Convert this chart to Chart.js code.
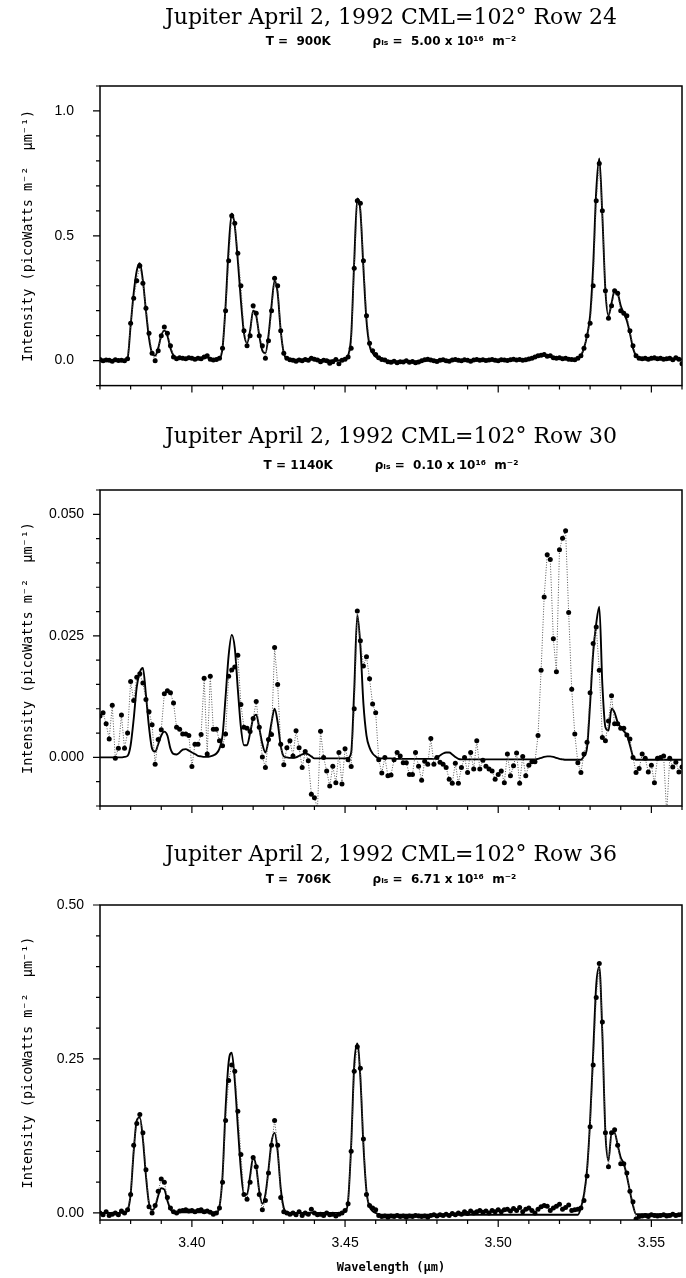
<!DOCTYPE html>
<html>
<head>
<meta charset="utf-8">
<script src="https://cdn.jsdelivr.net/npm/chart.js@4.4.1/dist/chart.umd.min.js"></script>
<style>
html,body{margin:0;padding:0;background:#ffffff;}
#wrap{position:relative;width:686px;height:1278px;background:#fff;}
canvas{position:absolute;left:0;}
</style>
</head>
<body>
<div id="wrap">
<canvas id="c1" width="686" height="420" style="top:0px"></canvas>
<canvas id="c2" width="686" height="420" style="top:420px"></canvas>
<canvas id="c3" width="686" height="438" style="top:840px"></canvas>
</div>
<script>
// ---------- DATA ----------
const wavelengths = [
3.370,3.371,3.372,3.373,3.374,3.375,3.376,3.377,3.378,3.379,
3.380,3.381,3.382,3.383,3.384,3.385,3.386,3.387,3.388,3.389,
3.390,3.391,3.392,3.393,3.394,3.395,3.396,3.397,3.398,3.399,
3.400,3.401,3.402,3.403,3.404,3.405,3.406,3.407,3.408,3.409,
3.410,3.411,3.412,3.413,3.414,3.415,3.416,3.417,3.418,3.419,
3.420,3.421,3.422,3.423,3.424,3.425,3.426,3.427,3.428,3.429,
3.430,3.431,3.432,3.433,3.434,3.435,3.436,3.437,3.438,3.439,
3.440,3.441,3.442,3.443,3.444,3.445,3.446,3.447,3.448,3.449,
3.450,3.451,3.452,3.453,3.454,3.455,3.456,3.457,3.458,3.459,
3.460,3.461,3.462,3.463,3.464,3.465,3.466,3.467,3.468,3.469,
3.470,3.471,3.472,3.473,3.474,3.475,3.476,3.477,3.478,3.479,
3.480,3.481,3.482,3.483,3.484,3.485,3.486,3.487,3.488,3.489,
3.490,3.491,3.492,3.493,3.494,3.495,3.496,3.497,3.498,3.499,
3.500,3.501,3.502,3.503,3.504,3.505,3.506,3.507,3.508,3.509,
3.510,3.511,3.512,3.513,3.514,3.515,3.516,3.517,3.518,3.519,
3.520,3.521,3.522,3.523,3.524,3.525,3.526,3.527,3.528,3.529,
3.530,3.531,3.532,3.533,3.534,3.535,3.536,3.537,3.538,3.539,
3.540,3.541,3.542,3.543,3.544,3.545,3.546,3.547,3.548,3.549,
3.550,3.551,3.552,3.553,3.554,3.555,3.556,3.557,3.558,3.559,
3.560];

// Row 24 (top panel)
const row24Observed = [
0.005,0.000,0.003,0.002,-0.002,0.004,0.001,0.002,0.000,0.008,
0.150,0.250,0.320,0.380,0.310,0.210,0.110,0.030,0.000,0.040,
0.100,0.135,0.110,0.060,0.015,0.008,0.012,0.010,0.008,0.012,
0.010,0.006,0.010,0.008,0.015,0.020,0.006,0.003,0.005,0.010,
0.050,0.200,0.400,0.580,0.550,0.430,0.300,0.120,0.060,0.100,
0.220,0.190,0.100,0.060,0.010,0.080,0.200,0.330,0.300,0.120,
0.030,0.010,0.004,0.002,-0.002,0.003,0.000,0.005,0.002,0.010,
0.006,0.003,-0.004,0.002,0.000,-0.010,-0.004,0.005,-0.012,0.002,
0.006,0.015,0.050,0.370,0.640,0.630,0.400,0.180,0.070,0.040,
0.025,0.012,0.005,0.003,-0.004,-0.006,-0.002,-0.008,-0.004,-0.005,
0.000,-0.006,-0.003,-0.008,-0.005,0.000,0.004,0.006,0.003,0.000,
-0.003,0.002,0.004,0.000,-0.002,0.003,0.005,0.002,0.000,0.004,
0.002,-0.002,0.003,0.005,0.002,0.004,0.001,0.003,0.005,0.002,
0.000,0.004,0.003,0.001,0.004,0.006,0.003,0.005,0.002,0.004,
0.007,0.010,0.015,0.020,0.022,0.025,0.018,0.020,0.012,0.010,
0.012,0.008,0.010,0.006,0.005,0.004,0.010,0.020,0.050,0.100,
0.150,0.300,0.640,0.790,0.600,0.280,0.170,0.220,0.280,0.270,
0.200,0.190,0.180,0.120,0.060,0.020,0.010,0.008,0.010,0.006,
0.010,0.012,0.008,0.010,0.006,0.008,0.010,0.004,0.012,0.006,
-0.012];
const row24Model = [
0.002,0.002,0.002,0.002,0.002,0.002,0.002,0.002,0.003,0.010,
0.140,0.270,0.360,0.390,0.320,0.200,0.090,0.030,0.020,0.050,
0.100,0.120,0.100,0.050,0.020,0.008,0.006,0.006,0.006,0.006,
0.006,0.006,0.007,0.008,0.010,0.012,0.008,0.005,0.005,0.008,
0.050,0.220,0.450,0.590,0.540,0.400,0.240,0.110,0.070,0.120,
0.200,0.180,0.100,0.040,0.030,0.100,0.220,0.320,0.270,0.120,
0.030,0.008,0.004,0.004,0.004,0.004,0.004,0.004,0.004,0.005,
0.005,0.004,0.003,0.002,0.002,0.001,0.001,0.001,0.001,0.002,
0.004,0.020,0.100,0.400,0.650,0.600,0.370,0.160,0.060,0.030,
0.015,0.008,0.003,0.000,-0.002,-0.003,-0.003,-0.003,-0.003,-0.003,
-0.003,-0.003,-0.003,-0.003,-0.002,-0.002,-0.001,0.000,0.001,0.001,
0.001,0.001,0.001,0.001,0.001,0.001,0.002,0.002,0.002,0.002,
0.002,0.002,0.002,0.002,0.002,0.002,0.002,0.002,0.002,0.002,
0.002,0.002,0.002,0.003,0.003,0.003,0.004,0.004,0.005,0.006,
0.008,0.010,0.014,0.017,0.019,0.020,0.019,0.017,0.014,0.011,
0.009,0.008,0.007,0.006,0.005,0.005,0.008,0.020,0.050,0.100,
0.180,0.380,0.680,0.810,0.580,0.280,0.180,0.230,0.280,0.270,
0.220,0.190,0.160,0.110,0.050,0.020,0.010,0.006,0.005,0.005,
0.005,0.005,0.005,0.005,0.005,0.005,0.005,0.005,0.005,0.005,
0.005];

// Row 30 (middle panel)
const row30Observed = [
0.0085,0.0092,0.0069,0.0038,0.0107,-0.0002,0.0019,0.0087,0.0019,0.0050,
0.0156,0.0117,0.0165,0.0172,0.0153,0.0119,0.0094,0.0067,-0.0014,0.0037,
0.0057,0.0131,0.0137,0.0133,0.0112,0.0062,0.0058,0.0048,0.0048,0.0045,
-0.0019,0.0027,0.0027,0.0047,0.0163,0.0007,0.0167,0.0058,0.0058,0.0034,
0.0024,0.0048,0.0167,0.0180,0.0186,0.0210,0.0109,0.0062,0.0060,0.0053,
0.0080,0.0115,0.0062,0.0001,-0.0021,0.0037,0.0047,0.0226,0.0150,0.0027,
-0.0015,0.0020,0.0034,0.0003,0.0055,0.0020,-0.0021,0.0012,-0.0007,-0.0076,
-0.0083,-0.0105,0.0054,0.0000,-0.0028,-0.0059,-0.0018,-0.0052,0.0010,-0.0055,
0.0018,-0.0005,-0.0019,0.0100,0.0301,0.0240,0.0188,0.0207,0.0162,0.0110,
0.0092,-0.0005,-0.0032,0.0000,-0.0038,-0.0036,-0.0005,0.0010,0.0003,-0.0011,
-0.0011,-0.0035,-0.0035,0.0010,-0.0018,-0.0047,-0.0008,-0.0014,0.0039,-0.0014,
0.0000,-0.0010,-0.0014,-0.0021,-0.0045,-0.0053,-0.0012,-0.0053,-0.0021,0.0000,
-0.0031,0.0010,-0.0024,0.0034,-0.0024,-0.0006,-0.0018,-0.0024,-0.0028,-0.0045,
-0.0035,-0.0028,-0.0052,0.0007,-0.0038,-0.0017,0.0009,-0.0053,0.0002,-0.0038,
-0.0016,-0.0009,-0.0009,0.0045,0.0179,0.0330,0.0417,0.0407,0.0244,0.0176,
0.0427,0.0451,0.0466,0.0298,0.0140,0.0048,-0.0011,-0.0031,0.0007,0.0031,
0.0133,0.0234,0.0268,0.0179,0.0041,0.0034,0.0075,0.0127,0.0069,0.0069,
0.0060,0.0060,0.0046,0.0038,0.0000,-0.0031,-0.0023,0.0007,-0.0002,-0.0030,
-0.0016,-0.0052,-0.0002,0.0000,0.0003,-0.0115,-0.0002,-0.0020,-0.0010,-0.0030,
-0.0020];
const row30Model = [
0.0000,0.0000,0.0000,0.0000,0.0000,0.0000,0.0000,0.0000,0.0001,0.0003,
0.0025,0.0079,0.0145,0.0175,0.0184,0.0128,0.0062,0.0018,0.0012,0.0027,
0.0045,0.0053,0.0045,0.0018,0.0007,0.0006,0.0010,0.0016,0.0017,0.0014,
0.0010,0.0007,0.0003,0.0002,0.0001,0.0001,0.0002,0.0004,0.0008,0.0018,
0.0045,0.0125,0.0210,0.0252,0.0225,0.0140,0.0062,0.0025,0.0025,0.0050,
0.0080,0.0088,0.0060,0.0028,0.0010,0.0035,0.0072,0.0100,0.0072,0.0024,
0.0002,0.0000,-0.0001,-0.0001,0.0000,0.0003,0.0006,0.0008,0.0006,0.0002,
-0.0002,-0.0002,-0.0002,-0.0002,-0.0002,-0.0002,-0.0002,-0.0002,-0.0002,-0.0002,
-0.0002,-0.0001,0.0010,0.0140,0.0293,0.0230,0.0110,0.0045,0.0020,0.0008,
0.0002,-0.0002,-0.0002,-0.0002,-0.0002,-0.0002,-0.0003,-0.0003,-0.0003,-0.0003,
-0.0003,-0.0003,-0.0003,-0.0003,-0.0003,-0.0003,-0.0003,-0.0003,-0.0003,-0.0003,
0.0000,0.0004,0.0008,0.0010,0.0010,0.0006,0.0001,-0.0003,-0.0004,-0.0004,
-0.0004,-0.0004,-0.0004,-0.0004,-0.0004,-0.0004,-0.0004,-0.0004,-0.0004,-0.0004,
-0.0004,-0.0004,-0.0004,-0.0004,-0.0004,-0.0004,-0.0004,-0.0004,-0.0004,-0.0004,
-0.0004,-0.0004,-0.0004,-0.0003,-0.0001,0.0001,0.0002,0.0002,0.0001,-0.0001,
-0.0003,-0.0004,-0.0005,-0.0005,-0.0005,-0.0005,-0.0005,-0.0005,0.0003,0.0020,
0.0110,0.0215,0.0275,0.0310,0.0150,0.0062,0.0055,0.0100,0.0092,0.0072,
0.0062,0.0054,0.0046,0.0025,0.0002,-0.0005,-0.0005,-0.0005,-0.0005,-0.0005,
-0.0005,-0.0005,-0.0005,-0.0005,-0.0005,-0.0005,-0.0005,-0.0005,-0.0005,-0.0005,
-0.0005];

// Row 36 (bottom panel)
const row36Observed = [
0.000,-0.003,0.002,-0.004,-0.002,0.000,-0.003,0.003,0.000,0.005,
0.030,0.110,0.145,0.160,0.130,0.070,0.010,0.000,0.012,0.035,
0.055,0.050,0.025,0.008,0.002,0.000,0.003,0.004,0.005,0.003,
0.004,0.002,0.004,0.005,0.002,0.003,0.001,-0.002,0.000,0.008,
0.050,0.150,0.215,0.240,0.230,0.165,0.095,0.030,0.022,0.050,
0.090,0.075,0.030,0.005,0.020,0.065,0.110,0.150,0.110,0.025,
0.002,0.000,-0.002,0.000,-0.003,0.002,-0.004,0.000,-0.002,0.006,
0.000,-0.003,-0.002,-0.004,0.000,-0.003,-0.002,-0.005,-0.002,0.000,
0.004,0.015,0.100,0.230,0.270,0.235,0.120,0.030,0.012,0.008,
0.005,-0.004,-0.006,-0.005,-0.007,-0.005,-0.006,-0.004,-0.006,-0.005,
-0.007,-0.005,-0.006,-0.004,-0.005,-0.006,-0.005,-0.007,-0.004,-0.003,
-0.005,-0.003,-0.004,-0.002,-0.004,-0.001,-0.003,0.000,-0.002,0.002,
-0.001,0.003,0.000,0.002,0.004,0.001,0.003,0.000,0.004,0.002,
0.005,0.002,0.005,0.006,0.003,0.007,0.004,0.009,0.002,0.006,
0.008,0.004,0.000,0.006,0.010,0.012,0.011,0.004,0.008,0.011,
0.014,0.006,0.009,0.013,0.004,0.005,0.006,0.008,0.020,0.060,
0.140,0.240,0.350,0.405,0.310,0.130,0.075,0.130,0.135,0.110,
0.080,0.080,0.065,0.035,0.018,-0.010,-0.006,-0.005,-0.004,-0.006,
-0.003,-0.004,-0.005,-0.004,-0.003,-0.005,-0.004,-0.002,-0.004,-0.003,
-0.002];
const row36Model = [
0.000,0.000,0.000,0.000,0.000,0.000,0.000,0.000,0.000,0.004,
0.030,0.100,0.150,0.155,0.120,0.060,0.015,0.005,0.010,0.028,
0.040,0.038,0.020,0.006,0.001,0.001,0.001,0.001,0.001,0.001,
0.001,0.001,0.001,0.001,0.001,0.001,0.001,0.001,0.001,0.010,
0.060,0.170,0.245,0.260,0.215,0.140,0.070,0.030,0.030,0.060,
0.090,0.075,0.035,0.015,0.030,0.070,0.115,0.130,0.100,0.040,
0.008,0.001,0.000,0.000,0.000,0.000,0.000,0.000,0.000,0.000,
0.000,0.000,0.000,0.000,0.000,0.000,0.000,0.000,0.000,0.000,
0.002,0.020,0.110,0.240,0.275,0.220,0.110,0.035,0.010,0.003,
0.000,-0.002,-0.003,-0.003,-0.003,-0.003,-0.003,-0.003,-0.003,-0.003,
-0.003,-0.003,-0.003,-0.003,-0.003,-0.003,-0.003,-0.003,-0.003,-0.003,
-0.003,-0.003,-0.003,-0.003,-0.003,-0.003,-0.003,-0.003,-0.003,-0.003,
-0.003,-0.003,-0.003,-0.003,-0.003,-0.003,-0.003,-0.003,-0.003,-0.003,
-0.003,-0.003,-0.003,-0.003,-0.003,-0.003,-0.003,-0.003,-0.003,-0.003,
-0.003,-0.003,-0.003,-0.003,-0.003,-0.003,-0.003,-0.003,-0.003,-0.003,
-0.003,-0.003,-0.003,-0.003,-0.003,-0.003,-0.003,0.008,0.030,0.070,
0.150,0.260,0.370,0.400,0.290,0.130,0.085,0.130,0.130,0.110,
0.090,0.080,0.060,0.035,0.012,-0.002,-0.002,-0.002,-0.002,-0.002,
-0.002,-0.002,-0.002,-0.002,-0.002,-0.002,-0.002,-0.002,-0.002,-0.002,
-0.002];

// ---------- TEXT / TICKS ----------
const panelTitles = [
  'Jupiter April 2, 1992 CML=102° Row 24',
  'Jupiter April 2, 1992 CML=102° Row 30',
  'Jupiter April 2, 1992 CML=102° Row 36'
];
const panelSubtitles = [
  'T =  900K          ρₗₛ =  5.00 x 10¹⁶  m⁻²',
  'T = 1140K          ρₗₛ =  0.10 x 10¹⁶  m⁻²',
  'T =  706K          ρₗₛ =  6.71 x 10¹⁶  m⁻²'
];
const yAxisTitle = 'Intensity (picoWatts m⁻²  μm⁻¹)';
const xAxisTitle = 'Wavelength (μm)';
const xTickValues = [3.40, 3.45, 3.50, 3.55];
const xTickLabels = ['3.40', '3.45', '3.50', '3.55'];
const row24YTickValues = [0, 0.5, 1.0];
const row24YTickLabels = ['0.0', '0.5', '1.0'];
const row30YTickValues = [0, 0.025, 0.05];
const row30YTickLabels = ['0.000', '0.025', '0.050'];
const row36YTickValues = [0, 0.25, 0.5];
const row36YTickLabels = ['0.00', '0.25', '0.50'];

// ---------- PLUGIN: frame + major/minor tick marks ----------
const frameTicks = {
  id: 'frameTicks',
  afterDraw(chart, args, opts) {
    const {ctx, chartArea: a, scales: {x, y}} = chart;
    const steps = (min, max, step) => {
      const out = [];
      for (let k = Math.ceil(min / step - 1e-6); k * step <= max + 1e-9; k++) out.push(k * step);
      return out;
    };
    const isMajor = (v, m) => Math.abs(v / m - Math.round(v / m)) < 1e-6;
    ctx.save();
    ctx.strokeStyle = '#000';
    ctx.lineWidth = 1.5;
    ctx.strokeRect(a.left, a.top, a.right - a.left, a.bottom - a.top);
    ctx.lineWidth = 1.2;
    ctx.beginPath();
    steps(x.min, x.max, opts.xMinor).forEach(v => {
      const px = x.getPixelForValue(v);
      ctx.moveTo(px, a.bottom);
      ctx.lineTo(px, a.bottom + (isMajor(v, opts.xMajor) ? 7 : 4));
    });
    steps(y.min, y.max, opts.yMinor).forEach(v => {
      const py = y.getPixelForValue(v);
      ctx.moveTo(a.left, py);
      ctx.lineTo(a.left - (isMajor(v, opts.yMajor) ? 7 : 4), py);
    });
    ctx.stroke();
    ctx.restore();
  }
};

function makePanel(p) {
  return new Chart(document.getElementById(p.canvas), {
    type: 'line',
    data: {
      datasets: [
        {
          label: 'Observed',
          data: wavelengths.map((w, i) => ({x: w, y: p.observed[i]})),
          borderColor: '#555',
          borderWidth: 1,
          borderDash: [1, 1.6],
          pointRadius: 2.5,
          pointBackgroundColor: '#000',
          pointBorderColor: '#000',
          pointBorderWidth: 0,
          tension: 0,
          order: 0
        },
        {
          label: 'Model',
          data: wavelengths.map((w, i) => ({x: w, y: p.model[i]})),
          borderColor: '#000',
          borderWidth: 1.9,
          pointRadius: 0,
          cubicInterpolationMode: 'monotone',
          order: 1
        }
      ]
    },
    options: {
      responsive: false,
      animation: false,
      devicePixelRatio: 1,
      layout: {padding: {left: 0, right: 3, top: 0, bottom: 0}},
      plugins: {
        legend: {display: false},
        tooltip: {enabled: false},
        title: {
          display: true, text: p.title, fullSize: false, color: '#000',
          font: {family: "'DejaVu Serif', serif", size: 22, weight: 'normal', lineHeight: 1.2},
          padding: {top: p.titlePadTop, bottom: 0}
        },
        subtitle: {
          display: true, text: p.subtitle, fullSize: false, color: '#000',
          font: {family: "'DejaVu Sans', sans-serif", size: 12, weight: 'bold', lineHeight: 1.2},
          padding: {top: p.subPadTop, bottom: p.subPadBottom}
        },
        frameTicks: {xMinor: 0.01, xMajor: 0.05, yMinor: p.yMinor, yMajor: p.yMajor}
      },
      scales: {
        x: {
          type: 'linear', min: 3.37, max: 3.56,
          afterBuildTicks: s => { s.ticks = xTickValues.map(v => ({value: v})); },
          afterFit: s => { s.height = p.xHeight; },
          grid: {display: false, drawTicks: false},
          border: {display: false},
          ticks: {
            display: p.showX, color: '#000', padding: 15, maxRotation: 0, autoSkip: false,
            font: {family: "'Liberation Sans', Arial, sans-serif", size: 14},
            callback: (v, i) => xTickLabels[i]
          },
          title: {
            display: p.showX, text: xAxisTitle, color: '#000',
            font: {family: "'DejaVu Sans Mono', monospace", size: 12, weight: 'bold'},
            padding: {top: 0, bottom: 3}
          }
        },
        y: {
          type: 'linear', min: p.yMin, max: p.yMax,
          afterBuildTicks: s => { s.ticks = p.yTicks.map(v => ({value: v})); },
          afterFit: s => { s.width = 100; },
          grid: {display: false, drawTicks: false},
          border: {display: false},
          ticks: {
            color: '#000', padding: p.yLabelPad,
            font: {family: "'Liberation Sans', Arial, sans-serif", size: 14},
            callback: (v, i) => p.yLabels[i]
          },
          title: {
            display: true, text: yAxisTitle, color: '#000',
            font: {family: "'DejaVu Sans Mono', monospace", size: 13.5},
            padding: {top: 20, bottom: 0}
          }
        }
      }
    },
    plugins: [frameTicks]
  });
}

makePanel({
  canvas: 'c1', title: panelTitles[0], subtitle: panelSubtitles[0],
  observed: row24Observed, model: row24Model,
  yMin: -0.1, yMax: 1.1, yTicks: row24YTickValues, yLabels: row24YTickLabels,
  yMinor: 0.1, yMajor: 0.5, yLabelPad: 26,
  titlePadTop: 4.8, subPadTop: 3.6, subPadBottom: 36.8, xHeight: 22, showX: false
});
makePanel({
  canvas: 'c2', title: panelTitles[1], subtitle: panelSubtitles[1],
  observed: row30Observed, model: row30Model,
  yMin: -0.01, yMax: 0.055, yTicks: row30YTickValues, yLabels: row30YTickLabels,
  yMinor: 0.005, yMajor: 0.025, yLabelPad: 16,
  titlePadTop: 3.8, subPadTop: 8.6, subPadBottom: 16.8, xHeight: 34, showX: false
});
makePanel({
  canvas: 'c3', title: panelTitles[2], subtitle: panelSubtitles[2],
  observed: row36Observed, model: row36Model,
  yMin: -0.0115, yMax: 0.5, yTicks: row36YTickValues, yLabels: row36YTickLabels,
  yMinor: 0.05, yMajor: 0.25, yLabelPad: 16,
  titlePadTop: 1.8, subPadTop: 4.6, subPadBottom: 17.8, xHeight: 58, showX: true
});
</script>
</body>
</html>
